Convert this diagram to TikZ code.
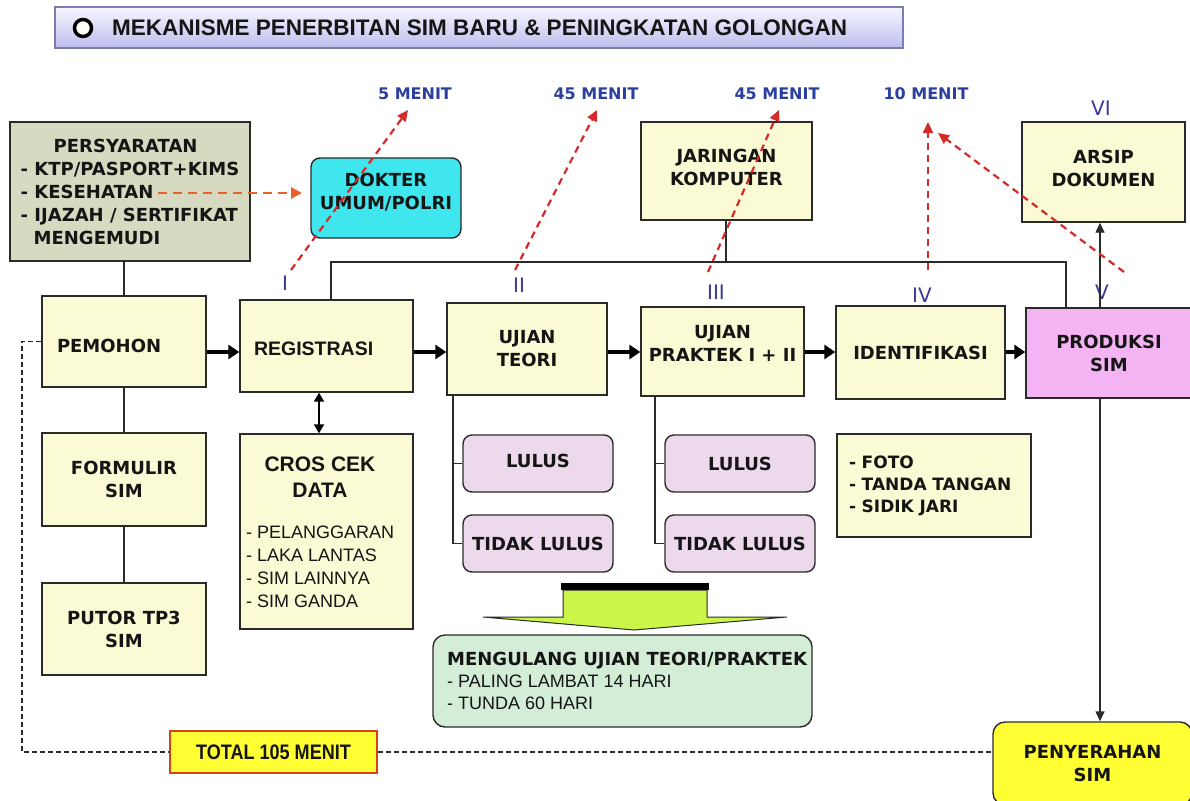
\documentclass[tikz,border=0pt]{standalone}
\usepackage{fontspec}
\setmainfont{DejaVu Sans}
\newfontfamily\arialf{Liberation Sans}
\newfontfamily\narrowf[FakeStretch=0.86]{Liberation Sans}
\usetikzlibrary{arrows.meta,calc}
\definecolor{cream}{HTML}{FAFAD4}
\definecolor{persy}{HTML}{D5DAC0}
\definecolor{aqua}{HTML}{40E6EE}
\definecolor{lilac}{HTML}{ECDAEC}
\definecolor{pinkv}{HTML}{F4B4F4}
\definecolor{mint}{HTML}{D4EDD6}
\definecolor{lime}{HTML}{CCF54A}
\definecolor{yel}{HTML}{FFFF33}
\definecolor{bluet}{HTML}{2B3F9E}
\definecolor{romanc}{HTML}{3A3A98}
\definecolor{redd}{HTML}{D42A2A}
\definecolor{orng}{HTML}{E8602C}
\definecolor{lineclr}{HTML}{2A2A2A}
\definecolor{txt}{HTML}{151515}
\definecolor{titletop}{HTML}{F6F6FF}
\definecolor{titlebot}{HTML}{BEBEEE}
\definecolor{titleline}{HTML}{7C7CB0}
\definecolor{totalline}{HTML}{D8401C}
\newcommand{\lowpad}[1]{\rule[-#1pt]{0pt}{#1pt}}
\begin{document}
\begin{tikzpicture}[x=1pt,y=-1pt,
  vb/.style={font=\fontsize{18}{23}\selectfont\bfseries},
  base/.style={draw=lineclr, line width=1.4pt, inner sep=0pt, align=center, text=txt, vb},
  box/.style={base, fill=cream},
  rbox/.style={base, rounded corners=9pt},
  sz/.style 2 args={minimum width=#1pt, minimum height=#2pt},
  conn/.style={draw=lineclr, line width=1.4pt},
  flow/.style={draw=black, line width=4pt, -{Triangle[length=11pt,width=14pt]}},
  reddash/.style={draw=redd, line width=2.2pt, dash pattern=on 7pt off 5pt, -{Triangle[length=11pt,width=10pt]}},
  orgdash/.style={draw=orng, line width=2.6pt, dash pattern=on 9pt off 6pt, -{Triangle[length=11pt,width=11pt]}},
  blkdash/.style={draw=lineclr, line width=1.5pt, dash pattern=on 5pt off 3pt},
  minit/.style={inner sep=0pt, font=\fontsize{16}{18}\selectfont\bfseries, text=bluet},
  roman/.style={inner sep=0pt, font=\fontsize{20}{22}\selectfont, text=romanc},
  plain/.style={inner sep=0pt, text=txt, align=left}
]
\useasboundingbox (0,0) rectangle (1190,800);
\fill[white] (0,0) rectangle (1190,800);

% title
\node[draw=titleline, line width=1.2pt, top color=titletop, bottom color=titlebot, sz={848}{41}] (title) at (479,27.5) {};
\node[circle, draw=black, line width=3.5pt, fill=white, minimum size=17pt, inner sep=0pt] (bullet) at (83,28) {};
\node[anchor=west, inner sep=0pt, font=\arialf\fontsize{22.5}{24}\selectfont\bfseries, text=txt] (titletext) at (112,28) {MEKANISME PENERBITAN SIM BARU \& PENINGKATAN GOLONGAN};

% top boxes
\node[base, fill=persy, sz={240}{139}, align=left] (persy) at (130,191.5)
  {\hspace*{33pt}PERSYARATAN\\- KTP/PASPORT+KIMS\\- KESEHATAN\\- IJAZAH / SERTIFIKAT\\\hspace*{13pt}MENGEMUDI};
\node[rbox, fill=aqua, sz={150}{80}] (dokter) at (386,198) {DOKTER\\UMUM/POLRI\lowpad{14}};
\node[box, sz={171}{98}] (jaringan) at (726.5,171) {JARINGAN\\KOMPUTER\lowpad{8}};
\node[box, sz={163}{100}] (arsip) at (1103.5,172) {ARSIP\\DOKUMEN\lowpad{8}};

% time labels
\node[minit] (m1) at (415,94) {5 MENIT};
\node[minit] (m2) at (596,94) {45 MENIT};
\node[minit] (m3) at (777,94) {45 MENIT};
\node[minit] (m4) at (926,94) {10 MENIT};

% roman numerals
\node[roman] (r1) at (285,283) {I};
\node[roman] (r2) at (519,285) {II};
\node[roman] (r3) at (716,292) {III};
\node[roman] (r4) at (922,295) {IV};
\node[roman] (r5) at (1102,292) {V};
\node[roman] (r6) at (1101,108) {VI};

% main row
\node[box, sz={164}{91}, text width=134pt, align=left] (pemohon) at (124,341.5) {\rule{0pt}{23pt}PEMOHON};
\node[box, sz={173}{92}, text width=145pt, align=left, font=\arialf\fontsize{19.5}{23}\selectfont\bfseries] (registrasi) at (326.5,346) {\rule{0pt}{20pt}REGISTRASI};
\node[box, sz={160}{92}] (teori) at (527,349) {UJIAN\\TEORI};
\node[box, sz={163}{89}] (praktek) at (722.5,351.5) {UJIAN\\PRAKTEK I + II\lowpad{16}};
\node[box, sz={169}{93}] (identifikasi) at (920.5,352.5) {IDENTIFIKASI};
\node[base, fill=pinkv, sz={166}{90}] (produksi) at (1109,353) {PRODUKSI\\SIM};

% left column
\node[box, sz={164}{93}] (formulir) at (124,479.5) {FORMULIR\\SIM};
\node[box, sz={164}{92}] (putor) at (124,629) {PUTOR TP3\\SIM};

% cros cek data
\node[box, sz={173}{195}] (cros) at (326.5,531.5) {};
\node[inner sep=0pt, align=center, text=txt, font=\arialf\fontsize{21}{26}\selectfont\bfseries] (croshead) at (320,477) {CROS CEK\\DATA};
\node[plain, anchor=west, font=\arialf\fontsize{18}{23}\selectfont] (croslist) at (246,566.5) {- PELANGGARAN\\- LAKA LANTAS\\- SIM LAINNYA\\- SIM GANDA};

% lulus boxes
\node[rbox, fill=lilac, sz={150}{57}] (lulus1) at (538,463.5) {LULUS\lowpad{6}};
\node[rbox, fill=lilac, sz={150}{57}] (tidak1) at (538,543.5) {TIDAK LULUS};
\node[rbox, fill=lilac, sz={150}{57}] (lulus2) at (740,463.5) {LULUS};
\node[rbox, fill=lilac, sz={150}{57}] (tidak2) at (740,543.5) {TIDAK LULUS};

% foto box
\node[box, sz={194}{103}, text width=170pt, align=left, font=\fontsize{17}{22}\selectfont\bfseries] (foto) at (934,485.5) {- FOTO\\- TANDA TANGAN\\- SIDIK JARI};

% green arrow
\filldraw[fill=lime, draw=lineclr, line width=1pt] (563,590) -- (707,590) -- (707,617) -- (787,617) -- (634,630) -- (483,617) -- (563,617) -- cycle;
\fill[black] (561,583) rectangle (709,590);

% mengulang
\node[rbox, fill=mint, sz={379}{92}, rounded corners=12pt] (mengulang) at (622.5,681) {};
\node[plain, anchor=west, font=\arialf\fontsize{18}{22}\selectfont] (mengtext) at (447,681)
  {{\fontspec{DejaVu Sans}\bfseries MENGULANG UJIAN TEORI/PRAKTEK}\\- PALING LAMBAT 14 HARI\\- TUNDA 60 HARI};

% bottom
\node[draw=totalline, line width=1.5pt, fill=yel, sz={207}{42}, inner sep=0pt, text=txt, font=\narrowf\fontsize{21}{23}\selectfont\bfseries] (total) at (273.5,752) {TOTAL 105 MENIT};
\node[rbox, fill=yel, sz={199}{83}, rounded corners=12pt] (penyerahan) at (1092.5,763.5) {PENYERAHAN\\SIM};

% connectors
\draw[conn] (persy.south -| pemohon) -- (pemohon.north);
\draw[conn] (pemohon.south) -- (formulir.north);
\draw[conn] (formulir.south) -- (putor.north);

\draw[flow] (pemohon.east |- 0,352) -- (registrasi.west |- 0,352);
\draw[flow] (registrasi.east |- 0,352) -- (teori.west |- 0,352);
\draw[flow] (teori.east |- 0,352) -- (praktek.west |- 0,352);
\draw[flow] (praktek.east |- 0,352) -- (identifikasi.west |- 0,352);
\draw[flow] (identifikasi.east |- 0,352) -- (produksi.west |- 0,352);

\draw[draw=black, line width=2pt, {Triangle[length=9pt,width=10pt]}-{Triangle[length=9pt,width=10pt]}] (registrasi.south -| 319,0) -- (cros.north -| 319,0);

\coordinate (busL) at (331,262);
\coordinate (busR) at (1066,262);
\draw[conn] (registrasi.north -| busL) -- (busL) -- (busR) -- (busR |- produksi.north);
\draw[conn] (jaringan.south -| 726,0) -- (busL -| 726,0);

\coordinate (vx) at (1100,0);
\draw[conn, -{Triangle[length=10pt,width=9pt]}] (produksi.north -| vx) -- (arsip.south -| vx);
\draw[conn, -{Triangle[length=10pt,width=9pt]}] (produksi.south -| vx) -- (penyerahan.north -| vx);

\coordinate (b1) at (453,0);
\coordinate (b2) at (655,0);
\draw[conn] (teori.south -| b1) |- (tidak1.west);
\draw[conn] (b1 |- lulus1.west) -- (lulus1.west);
\draw[conn] (praktek.south -| b2) |- (tidak2.west);
\draw[conn] (b2 |- lulus2.west) -- (lulus2.west);

\coordinate (dl) at (22,0);
\draw[blkdash] (pemohon.west) -- (pemohon.west -| dl) -- (dl |- total.west) -- (total.west);
\draw[blkdash] (total.east) -- (total.east -| penyerahan.west);

% red time arrows
\coordinate (kes) at (158,193);
\coordinate (dok) at (302,193);
\draw[orgdash] (kes) -- (dok);
\coordinate (s1) at (291,270); \coordinate (e1) at (408,110);
\coordinate (s2) at (515,270); \coordinate (e2) at (597,110);
\coordinate (s3) at (708,272); \coordinate (e3) at (779,110);
\coordinate (s4) at (928,270); \coordinate (e4) at (928,122);
\coordinate (s5) at (1124,272); \coordinate (e5) at (938,133);
\draw[reddash] (s1) -- (e1);
\draw[reddash] (s2) -- (e2);
\draw[reddash] (s3) -- (e3);
\draw[reddash] (s4) -- (e4);
\draw[reddash] (s5) -- (e5);
\end{tikzpicture}
\end{document}
